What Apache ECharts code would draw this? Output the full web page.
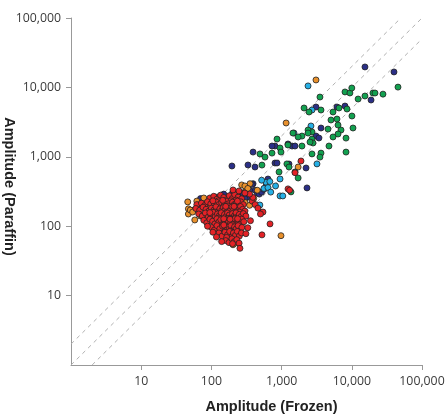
<!DOCTYPE html>
<html>
<head>
<meta charset="utf-8">
<script src="https://cdn.jsdelivr.net/npm/echarts@6/dist/echarts.min.js"></script>
<style>
html,body{margin:0;padding:0;background:#fff;}
#chart{width:448px;height:414px;}
</style>
</head>
<body>
<div id="chart"></div>
<script>
// Axis range and tick values (log axes)
const axisMin = 1;
const axisMax = 100000;
const tickValues = [10, 100, 1000, 10000, 100000];
// Reference diagonals: Paraffin = factor × Frozen
const refFactors = [2, 1, 0.5];

// [Frozen, Paraffin] amplitudes
const navyPoints = [
[15400,19700],[39900,16700],[18800,6580],[3090,5220],[8000,5390],[6150,5220],[3640,2600],[3090,1990],[3400,1865],
[805,1430],[1408,1430],[1552,1430],[392,1170],[805,814],[1275,787],[2230,690],[418,712],[2300,356],[730,1430],
[1234,1530],[196,737],[332,762],[860,814],[640,479],[392,410],[380,400],[420,330],[450,300],[480,290],[520,310],
[560,340],[70,250],[85,210],[100,240],[120,262],[150,228],[180,268],[210,258],[240,290],[55,170],[64,195],
[280,300],[320,260],[200,300],[150,290],[300,250],[350,330],[600,380]
];
const orangePoints = [
[3090,12800],[1160,3070],[1720,712],[270,393],[301,312],[980,73],[46,224],[47,178],[47,150],[50,171],[54,160],
[58,123],[203,54],[217,57],[78,255],[95,200],[130,250],[210,270],[260,240],[300,220],[160,95],[240,88],[275,150],
[110,140],[190,60],[350,200],[400,250],[230,280],[355,410],[300,380],[330,350],[450,330],[62,230],[70,140]
];
const cyanPoints = [
[2380,10500],[2710,4720],[2620,2780],[1500,2200],[3190,790],[950,273],[1040,273],[950,479],[600,430],[560,350],
[520,460],[680,440],[640,360],[490,202],[700,310],[820,380]
];
const greenPoints = [
[45500,10100],[8000,8600],[9400,8310],[10000,9800],[12300,6800],[15400,7510],[20000,8300],[21400,8300],[27800,8000],
[3520,7260],[2090,5050],[2460,4420],[3640,4720],[8540,4880],[6570,5050],[10050,3870],[5400,4420],[5050,3390],
[6150,3500],[6360,2870],[7020,2430],[10400,2600],[2710,2280],[2380,2430],[4580,2510],[6360,2130],[5400,1930],
[1450,2200],[1950,1990],[1720,1930],[2710,1800],[2800,1580],[4730,1430],[8270,1860],[8270,1170],[860,1800],
[950,1340],[1230,1480],[1950,1430],[2710,1100],[3640,1130],[3520,990],[492,1100],[580,990],[730,1130],[525,760],
[1190,790],[1720,495],[1360,312],[980,1170],[2380,2200],[2540,1630],[1275,712],[920,605],[1552,605]
];
const redPoints = [
[95,255],[108,270],[120,245],[135,280],[150,260],[165,240],[180,275],[198,250],[215,285],[240,262],[270,248],[125,232],[190,232],[225,238],
[62,205],[72,215],[80,198],[88,225],[98,210],[110,200],[118,222],[128,205],[140,218],[152,200],[163,228],[175,210],[188,198],[200,222],[212,205],[228,215],[245,200],[262,225],[285,205],[145,236],[105,232],[235,230],[172,196],
[60,180],[68,170],[76,188],[84,175],[92,165],[100,182],[108,170],[116,190],[124,162],[132,178],[140,168],[148,186],[156,172],[166,160],[176,180],[186,168],[196,190],[208,175],[220,162],[232,185],[246,170],[260,192],[278,175],[300,165],[160,193],[112,160],[210,193],[250,160],
[66,150],[74,140],[82,155],[90,135],[98,148],[106,158],[114,138],[122,150],[130,142],[138,156],[146,132],[154,148],[162,138],[170,155],[180,145],[190,132],[200,152],[212,140],[224,156],[236,135],[250,148],[266,138],[285,152],[310,140],[178,130],[128,131],[215,131],[95,157],
[78,122],[86,112],[95,126],[104,118],[112,108],[120,128],[128,115],[136,124],[144,106],[152,120],[160,112],[168,127],[176,117],[186,108],[196,124],[206,114],[216,128],[228,110],[240,120],[254,106],[270,126],[290,116],[150,128],[184,126],[236,128],[200,105],
[100,96],[110,88],[120,102],[132,92],[144,100],[156,86],[166,97],[178,90],[190,102],[202,88],[214,98],[226,92],[240,102],[256,86],[272,96],[185,85],[150,104],
[128,80],[142,72],[156,82],[170,75],[182,84],[194,70],[206,80],[220,74],[234,84],[250,72],[268,80],[165,69],
[160,62],[178,58],[196,66],[212,60],[230,64],[248,57],[200,56],
[255,48],[543,160],[684,108],[525,75],[1552,590],[1890,870],[1234,345],[1300,330],[203,333],[247,322],[380,230],[420,205],[460,182],[500,150],[390,260],[350,290],[300,300],
[88,100],[105,82],[118,70],[330,95],[360,120],[310,78],[140,60]
];

const colors = {navy:'#2b2f86', orange:'#e8902c', cyan:'#26b0e6', green:'#12a150', red:'#e42226'};

function refLine(f){
  const x0 = Math.max(axisMin, axisMin / f);
  const x1 = Math.min(axisMax, axisMax / f);
  return [[x0, x0 * f], [x1, x1 * f]];
}

function scatter(name, data, color){
  return {
    name: name, type:'scatter', data: data, symbolSize: 6,
    itemStyle:{color: color, borderColor:'#222', borderWidth:0.8, opacity:1},
    emphasis:{disabled:true}, z:3
  };
}

const fmt = v => (v === axisMin ? '' : Number(v).toLocaleString('en-US'));

const series = refFactors.map(f => ({
  type:'line', data: refLine(f), symbol:'none', silent:true, z:1,
  lineStyle:{color:'#b0b0b0', width:1, type:[4,4]}
}));
series.push(scatter('navy', navyPoints, colors.navy));
series.push(scatter('orange', orangePoints, colors.orange));
series.push(scatter('cyan', cyanPoints, colors.cyan));
series.push(scatter('green', greenPoints, colors.green));
series.push(scatter('red', redPoints, colors.red));

function axisCfg(name, gap, extra){
  return Object.assign({
    type:'log', logBase:10, min:axisMin, max:axisMax,
    name:name, nameLocation:'middle', nameGap:gap,
    axisLine:{show:true, lineStyle:{color:'#999', width:1}},
    axisTick:{show:true, inside:false, length:5, lineStyle:{color:'#999'}, customValues:tickValues},
    axisLabel:{formatter:fmt, fontFamily:'Open Sans', fontSize:12.3, color:'#3a3a3a', margin:10, customValues:tickValues},
    splitLine:{show:false}, minorTick:{show:false}
  }, extra);
}

const chart = echarts.init(document.getElementById('chart'), null, {renderer:'canvas'});
chart.setOption({
  animation:false,
  grid:{left:71, right:26, top:18, bottom:49, containLabel:false, outerBoundsMode:'none'},
  xAxis: axisCfg('Amplitude (Frozen)', 34, {
    nameTextStyle:{fontFamily:'Liberation Sans', fontWeight:'bold', fontSize:14.5, color:'#222', padding:[0,0,0,50]}
  }),
  yAxis: axisCfg('Amplitude (Paraffin)', 62, {
    nameRotate:-90, nameMoveOverlap:false,
    nameTextStyle:{fontFamily:'Liberation Sans', fontWeight:'bold', fontSize:14.5, color:'#222', align:'center', verticalAlign:'middle', padding:[0,10,0,0]}
  }),
  series: series
});
</script>
</body>
</html>
